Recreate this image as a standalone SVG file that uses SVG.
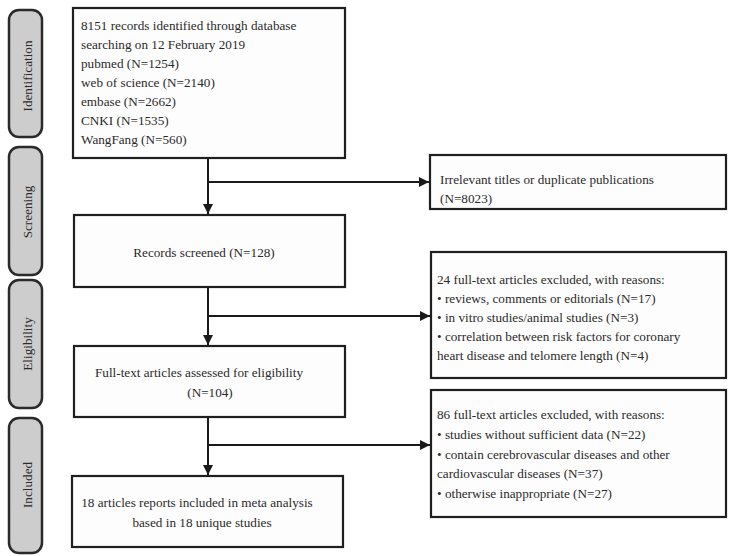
<svg xmlns="http://www.w3.org/2000/svg" width="736" height="556" viewBox="0 0 736 556">
<defs>
<marker id="ah" markerUnits="userSpaceOnUse" markerWidth="12" markerHeight="12" viewBox="0 0 12 12" refX="11" refY="6" orient="auto">
<path d="M1,1 L11,6 L1,11 Z" fill="#1a1a1a"/>
</marker>
</defs>
<style>
text{font-family:"Liberation Serif","Times New Roman",serif;font-size:13.2px;fill:#2a2a2a}
.box{fill:#fdfdfd;stroke:#1f1f1f;stroke-width:2.2}
.side{fill:#cdcdcd;stroke:#2a2a2a;stroke-width:2.5}
.c{text-anchor:middle}
.ln{stroke:#1a1a1a;stroke-width:2;fill:none}
</style>
<rect width="736" height="556" fill="#ffffff"/>
<g id="side-identification"><rect class="side" x="9" y="10" width="33" height="127" rx="10"/><text class="c" transform="translate(32,76) rotate(-90)">Identification</text></g>
<g id="side-screening"><rect class="side" x="9" y="147" width="33" height="128" rx="10"/><text class="c" transform="translate(32,212) rotate(-90)">Screening</text></g>
<g id="side-eligibility"><rect class="side" x="9" y="280" width="33" height="128" rx="10"/><text class="c" transform="translate(32,344) rotate(-90)">Eligibility</text></g>
<g id="side-included"><rect class="side" x="9" y="418" width="33" height="135" rx="10"/><text class="c" transform="translate(32,485) rotate(-90)">Included</text></g>

<g id="identified"><rect class="box" x="73" y="8" width="272" height="150"/>
<text x="81" y="30">8151 records identified through database</text>
<text x="81" y="49">searching on 12 February 2019</text>
<text x="81" y="68">pubmed (N=1254)</text>
<text x="81" y="87">web of science (N=2140)</text>
<text x="81" y="106">embase (N=2662)</text>
<text x="81" y="125">CNKI (N=1535)</text>
<text x="81" y="144">WangFang (N=560)</text></g>

<g id="irrelevant"><rect class="box" x="430" y="155" width="296" height="54"/>
<text x="440" y="184">Irrelevant titles or duplicate publications</text>
<text x="440" y="203">(N=8023)</text></g>

<g id="screened"><rect class="box" x="74" y="215" width="271" height="72"/>
<text class="c" x="204" y="257">Records screened (N=128)</text></g>

<g id="excluded24"><rect class="box" x="431" y="252" width="295" height="126"/>
<text x="437" y="284">24 full-text articles excluded, with reasons:</text>
<text x="437" y="303">• reviews, comments or editorials (N=17)</text>
<text x="437" y="322">• in vitro studies/animal studies (N=3)</text>
<text x="437" y="341">• correlation between risk factors for coronary</text>
<text x="437" y="360">heart disease and telomere length (N=4)</text></g>

<g id="assessed"><rect class="box" x="74" y="346" width="271" height="71"/>
<text class="c" x="199" y="377">Full-text articles assessed for eligibility</text>
<text class="c" x="210" y="397">(N=104)</text></g>

<g id="excluded86"><rect class="box" x="431" y="390" width="295" height="127"/>
<text x="437" y="419">86 full-text articles excluded, with reasons:</text>
<text x="437" y="439">• studies without sufficient data (N=22)</text>
<text x="437" y="459">• contain cerebrovascular diseases and other</text>
<text x="437" y="478">cardiovascular diseases (N=37)</text>
<text x="437" y="498">• otherwise inappropriate (N=27)</text></g>

<g id="included"><rect class="box" x="72" y="476" width="271" height="71"/>
<text class="c" x="197" y="507">18 articles reports included in meta analysis</text>
<text class="c" x="202" y="527">based in 18 unique studies</text></g>

<g id="connectors">
<path class="ln" d="M208,158 V214" marker-end="url(#ah)"/>
<path class="ln" d="M208,182 H429" marker-end="url(#ah)"/>
<path class="ln" d="M208,287 V345" marker-end="url(#ah)"/>
<path class="ln" d="M208,316 H430" marker-end="url(#ah)"/>
<path class="ln" d="M208,417 V475" marker-end="url(#ah)"/>
<path class="ln" d="M208,445 H430" marker-end="url(#ah)"/>
</g>
</svg>
